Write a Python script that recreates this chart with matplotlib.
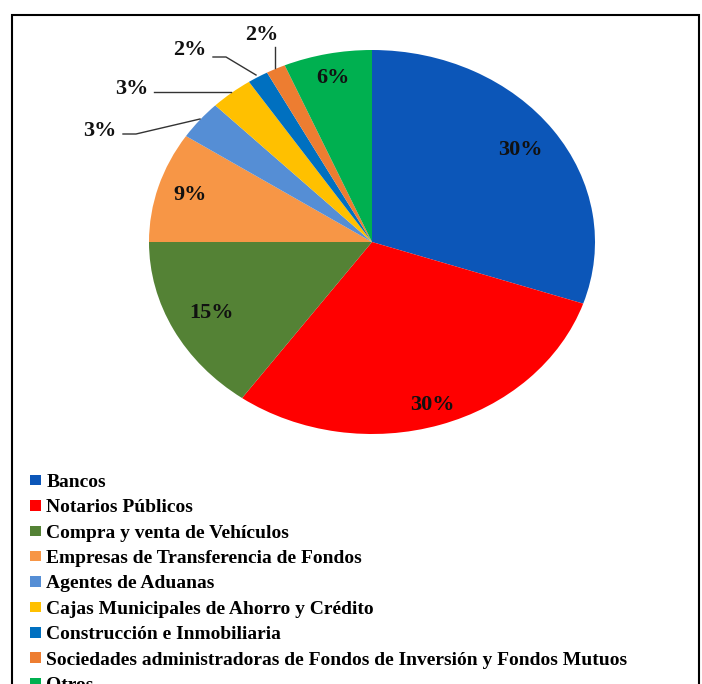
import numpy as np
import matplotlib
matplotlib.use("Agg")
import matplotlib.pyplot as plt
from matplotlib.patches import Rectangle

# === DATA ===
categories = [
    "Bancos",
    "Notarios Públicos",
    "Compra y venta de Vehículos",
    "Empresas de Transferencia de Fondos",
    "Agentes de Aduanas",
    "Cajas Municipales de Ahorro y Crédito",
    "Construcción e Inmobiliaria",
    "Sociedades administradoras de Fondos de Inversión y Fondos Mutuos",
    "Otros",
]
shares = [30.2, 29.7, 15.1, 9.3, 3.3, 3.1, 1.5, 1.4, 6.4]
pct_labels = ["30%", "30%", "15%", "9%", "3%", "3%", "2%", "2%", "6%"]
colors = ["#0C56B8", "#FF0000", "#548235", "#F79646", "#558ED5",
          "#FFC000", "#0070C0", "#ED7D31", "#00B050"]

W, H = 702, 684
CX, CY, RX, RY = 372, 242, 223, 192   # pie centre / radii in pixels

plt.rcParams["font.family"] = ["Liberation Serif", "DejaVu Serif"]
plt.rcParams["font.weight"] = "bold"

fig = plt.figure(figsize=(W / 100, H / 100), dpi=100)
ax = fig.add_axes([(CX - RX) / W, 1 - (CY + RY) / H, 2 * RX / W, 2 * RY / H])

wedges, _ = ax.pie(shares, colors=colors, startangle=90, counterclock=False,
                   radius=1, wedgeprops=dict(linewidth=0))
ax.set_aspect("auto")
ax.set_xlim(-1, 1)
ax.set_ylim(-1, 1)
ax.axis("off")


def px(x, y):
    # pixel position -> data coords of the pie axes
    return (x - CX) / RX, (CY - y) / RY


# labels inside the big slices
inside = {0: 0.82, 1: 0.89, 2: 0.81, 3: 0.85, 8: 0.87}
for i, w in enumerate(wedges):
    if i in inside:
        a = np.deg2rad((w.theta1 + w.theta2) / 2)
        r = inside[i]
        ax.text(r * np.cos(a), r * np.sin(a), pct_labels[i], ha="center",
                va="center", fontsize=16, fontweight="bold", color="#111111")

# outside labels with leader lines (positions in pixels)
outside = {
    4: ((100, 131), [(123, 134), (136, 134), (200, 119)]),
    5: ((132, 89), [(154, 92), (231, 92)]),
    6: ((190, 50), [(213, 57), (226, 57), (256, 75)]),
    7: ((262, 35), [(275, 47), (275, 68)]),
}
for i, (tp, path) in outside.items():
    tx, ty = px(*tp)
    ax.text(tx, ty, pct_labels[i], ha="center", va="center", fontsize=16,
            fontweight="bold", color="#111111", clip_on=False)
    xs, ys = zip(*[px(*p) for p in path])
    ax.plot(xs, ys, color="#333333", lw=1, clip_on=False)

# legend
handles = [Rectangle((0, 0), 1, 1, facecolor=c) for c in colors]
fig.legend(handles, categories, loc="upper left",
           bbox_to_anchor=(30 / W, 1 - 474 / H), frameon=False,
           fontsize=14, handlelength=0.57, handleheight=0.46,
           handletextpad=0.27, labelspacing=0.43, borderaxespad=0,
           borderpad=0)

# outer frame (bottom edge falls outside the picture)
fig.patches.append(Rectangle((12 / W, -0.05), (699 - 12) / W, 1.05 - 15 / H,
                             transform=fig.transFigure, fill=False,
                             edgecolor="black", linewidth=1.5))

fig.savefig("out.png", dpi=100)
